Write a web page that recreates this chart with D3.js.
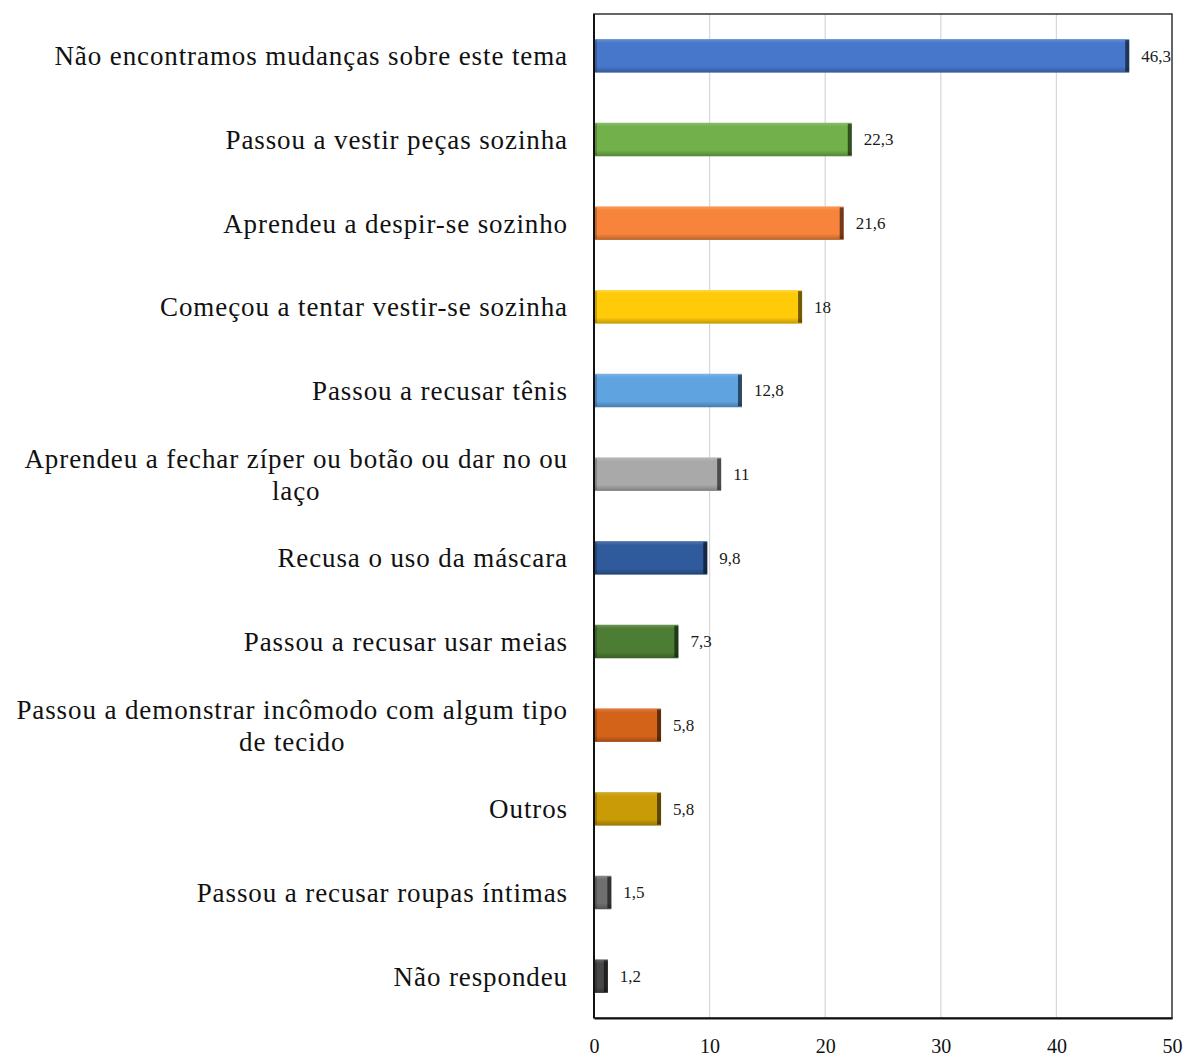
<!DOCTYPE html>
<html><head><meta charset="utf-8">
<script src="https://cdn.jsdelivr.net/npm/d3@7"></script>
<style>body{margin:0;background:#fff}svg{display:block}</style>
</head><body>
<script>
const categories = [
  "Não encontramos mudanças sobre este tema",
  "Passou a vestir peças sozinha",
  "Aprendeu a despir-se sozinho",
  "Começou a tentar vestir-se sozinha",
  "Passou a recusar tênis",
  "Aprendeu a fechar zíper ou botão ou dar no ou\nlaço",
  "Recusa o uso da máscara",
  "Passou a recusar usar meias",
  "Passou a demonstrar incômodo com algum tipo\nde tecido",
  "Outros",
  "Passou a recusar roupas íntimas",
  "Não respondeu"
];
const values = [46.3, 22.3, 21.6, 18, 12.8, 11, 9.8, 7.3, 5.8, 5.8, 1.5, 1.2];
const valueLabels = ["46,3","22,3","21,6","18","12,8","11","9,8","7,3","5,8","5,8","1,5","1,2"];
const colors = ["#4677CA","#71B04A","#F7843A","#FFCA08","#5FA4E1","#A9A9A9","#2F5A9C","#4D7C34","#D4631A","#C99B06","#6F6F6F","#474747"];
const ticks = [0,10,20,30,40,50];

const W = 1186, H = 1057;
const m = {left:594, right:1172, top:14, bottom:1018};
const svg = d3.select("body").append("svg").attr("width",W).attr("height",H);
const x = d3.scaleLinear().domain([0,50]).range([m.left,m.right]);
const y = d3.scaleBand().domain(categories).range([m.top,m.bottom]).paddingInner(0.6).paddingOuter(0.3);

const defs = svg.append("defs");
const vg = defs.append("linearGradient").attr("id","vshade").attr("x1",0).attr("y1",0).attr("x2",0).attr("y2",1);
vg.append("stop").attr("offset","0").attr("stop-color","#fff").attr("stop-opacity",0.18);
vg.append("stop").attr("offset","0.12").attr("stop-color","#fff").attr("stop-opacity",0.0);
vg.append("stop").attr("offset","0.82").attr("stop-color","#000").attr("stop-opacity",0.0);
vg.append("stop").attr("offset","1").attr("stop-color","#000").attr("stop-opacity",0.25);

// gridlines
svg.append("g").selectAll("line").data(ticks.filter(t=>t>0&&t<50)).join("line")
  .attr("x1",d=>x(d)).attr("x2",d=>x(d)).attr("y1",m.top).attr("y2",m.bottom)
  .attr("stroke","#D9D9D9").attr("stroke-width",1.3);

// bars
const bars = svg.append("g").selectAll("g").data(values).join("g");
bars.append("rect").attr("x",x(0)).attr("y",(d,i)=>y(categories[i]))
  .attr("width",d=>x(d)-x(0)).attr("height",y.bandwidth()).attr("fill",(d,i)=>colors[i]);
bars.append("rect").attr("x",x(0)).attr("y",(d,i)=>y(categories[i]))
  .attr("width",d=>x(d)-x(0)).attr("height",y.bandwidth()).attr("fill","url(#vshade)");
bars.append("rect").attr("x",d=>x(d)-4).attr("y",(d,i)=>y(categories[i])+1)
  .attr("width",4).attr("height",y.bandwidth()-2).attr("fill","#000").attr("opacity",0.55);
bars.append("rect").attr("x",d=>x(0)).attr("y",(d,i)=>y(categories[i])+1)
  .attr("width",3).attr("height",y.bandwidth()-2).attr("fill","#000").attr("opacity",0.2);

// value labels
svg.append("g").selectAll("text").data(values).join("text")
  .attr("x",d=>x(d)+12).attr("y",(d,i)=>y(categories[i])+y.bandwidth()/2)
  .attr("dy","0.35em").attr("font-family","Liberation Serif").attr("font-size",17).attr("fill","#1a1a1a")
  .text((d,i)=>valueLabels[i]);

// category labels
const lab = svg.append("g").attr("font-family","Liberation Serif").attr("font-size",27).attr("fill","#111").attr("letter-spacing","0.9px");
categories.forEach((c,i)=>{
  const lines = c.split("\n");
  const cy = y(c)+y.bandwidth()/2;
  const g = lab.append("g");
  const ts = lines.map((ln,k)=> g.append("text").attr("y", cy + (k-(lines.length-1)/2)*32).attr("dy","0.35em").text(ln));
  const widths = ts.map(t=>t.node().getComputedTextLength());
  const maxW = d3.max(widths);
  const cx = 568 - maxW/2;
  ts.forEach(t=>t.attr("x", lines.length>1 ? cx : 568).attr("text-anchor", lines.length>1 ? "middle":"end"));
});

// frame
svg.append("rect").attr("x",m.left).attr("y",m.top).attr("width",m.right-m.left).attr("height",m.bottom-m.top)
  .attr("fill","none").attr("stroke","#333").attr("stroke-width",1.5);

// x axis
const ax = svg.append("g").attr("transform",`translate(0,${m.bottom})`)
  .call(d3.axisBottom(x).tickValues(ticks).tickSize(0).tickPadding(0).tickFormat(d3.format("d")));
ax.select(".domain").attr("stroke","#111").attr("stroke-width",2);
ax.selectAll("text").attr("font-family","Liberation Serif").attr("font-size",20).attr("fill","#111")
  .attr("dy",null).attr("y",35);
svg.append("line").attr("x1",m.left).attr("x2",m.left).attr("y1",m.top).attr("y2",m.bottom).attr("stroke","#111").attr("stroke-width",2);
</script>
</body></html>
